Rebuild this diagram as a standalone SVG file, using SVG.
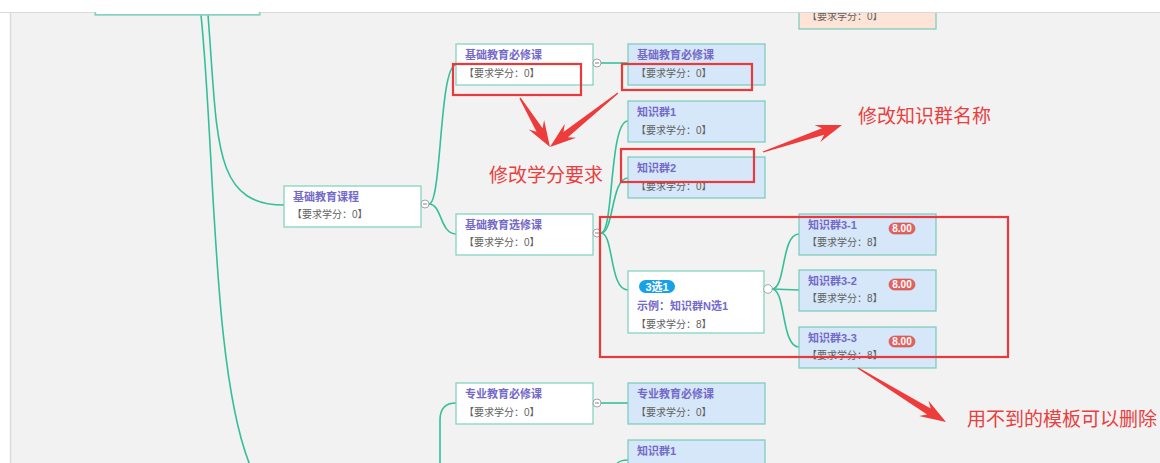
<svg xmlns="http://www.w3.org/2000/svg" width="1160" height="463" viewBox="0 0 1160 463">
<style>
.bg{fill:#f2f2f2}
.nw{fill:#ffffff;stroke:#86d3c3;stroke-width:1.3}
.nb{fill:#d5e7f8;stroke:#7fcdbf;stroke-width:1.3}
.np{fill:#fde4d6;stroke:#7fcdbf;stroke-width:1.3}
.t{font-family:"Liberation Sans","Noto Sans CJK SC",sans-serif;font-size:11px;font-weight:bold;fill:#7469c9}
.d{font-family:"Liberation Sans","Noto Sans CJK SC",sans-serif;font-size:10px;fill:#5f5f5f}
.c{fill:none;stroke:#35bf98;stroke-width:1.6}
.tog{fill:#ffffff;stroke:#9a9a9a;stroke-width:0.9}
.togm{stroke:#777;stroke-width:0.9}
.red{fill:none;stroke:#e8393c;stroke-width:2.2}
.ra{fill:#ee3b3b}
.rt{font-family:"Noto Sans CJK SC",sans-serif;font-size:19px;fill:#e8403f}
.pill{fill:#e2625f;stroke:#d24f4c;stroke-width:0.6}
.pt{font-family:"Liberation Sans",sans-serif;font-size:10px;font-weight:bold;fill:#ffffff}
.bt{font-family:"Liberation Sans","Noto Sans CJK SC",sans-serif;font-size:11px;font-weight:bold;fill:#ffffff}
</style>
<rect x="0" y="0" width="1160" height="463" fill="#ffffff"/>
<rect class="bg" x="10" y="12" width="1150" height="451"/>
<line x1="10.5" y1="12" x2="10.5" y2="463" stroke="#dcdcdc" stroke-width="1.5"/>

<g id="connectors">
<path class="c" d="M201,15 C215,150 212,380 252,470"/>
<path class="c" d="M208,15 C218,140 212,205 284,205"/>
<path class="c" d="M429,204 C442,204 439,65 456,65"/>
<path class="c" d="M429,204 C442,204 440,234 456,234"/>
<path class="c" d="M601,63 L628,63"/>
<path class="c" d="M601,233 C614,233 609,121 628,121"/>
<path class="c" d="M601,233 C614,233 611,178 628,178"/>
<path class="c" d="M601,233 C614,233 609,290 628,290"/>
<path class="c" d="M772,289 C786,289 781,234 799,234"/>
<path class="c" d="M772,289 L799,290"/>
<path class="c" d="M772,289 C786,289 781,347 799,347"/>
<path class="c" d="M601,403 L628,403"/>
<path class="c" d="M440,470 L440,420 C440,408 446,403 456,403"/>
<path class="c" d="M614,470 C615,463 619,460 628,460"/>
</g>

<g id="n-root"><rect class="nw" x="95" y="-30" width="165" height="45"/></g>
<g id="n-top-right"><rect class="np" x="799" y="-12" width="137" height="41"/><text class="d" x="807" y="20">【要求学分：0】</text></g>

<g id="n-jcjykc"><rect class="nw" x="284" y="186" width="137" height="41"/><text class="t" x="293" y="201">基础教育课程</text><text class="d" x="292" y="218">【要求学分：0】</text>
<circle class="tog" cx="425" cy="204" r="4"/><line class="togm" x1="423" y1="204" x2="427" y2="204"/></g>

<g id="n-bx1"><rect class="nw" x="456" y="44" width="137" height="41"/><text class="t" x="465" y="59">基础教育必修课</text><text class="d" x="464" y="77">【要求学分：0】</text>
<circle class="tog" cx="597" cy="63" r="4"/><line class="togm" x1="595" y1="63" x2="599" y2="63"/></g>

<g id="n-xx1"><rect class="nw" x="456" y="214" width="137" height="41"/><text class="t" x="465" y="229">基础教育选修课</text><text class="d" x="464" y="246">【要求学分：0】</text>
<circle class="tog" cx="597" cy="233" r="4"/><line class="togm" x1="595" y1="233" x2="599" y2="233"/></g>

<g id="n-bx2"><rect class="nb" x="628" y="44" width="137" height="41"/><text class="t" x="637" y="59">基础教育必修课</text><text class="d" x="636" y="77">【要求学分：0】</text></g>
<g id="n-zsq1"><rect class="nb" x="628" y="101" width="137" height="41"/><text class="t" x="637" y="116">知识群1</text><text class="d" x="636" y="134">【要求学分：0】</text></g>
<g id="n-zsq2"><rect class="nb" x="628" y="157" width="137" height="41"/><text class="t" x="637" y="172">知识群2</text><text class="d" x="636" y="190">【要求学分：0】</text></g>

<g id="n-3x1"><rect class="nw" x="628" y="271" width="136" height="62"/>
<rect x="639" y="280" width="36" height="13" rx="6.5" fill="#17a1e9"/><text class="bt" x="657" y="290.5" text-anchor="middle">3选1</text>
<text class="t" x="637" y="310">示例：知识群N选1</text><text class="d" x="636" y="328">【要求学分：8】</text>
<circle class="tog" cx="768" cy="289" r="4.3"/></g>

<g id="n-31"><rect class="nb" x="799" y="214" width="137" height="41"/><text class="t" x="808" y="229">知识群3-1</text><text class="d" x="807" y="246">【要求学分：8】</text>
<rect class="pill" x="889" y="223" width="26" height="11" rx="5.5"/><text class="pt" x="902" y="232" text-anchor="middle">8.00</text></g>
<g id="n-32"><rect class="nb" x="799" y="270" width="137" height="41"/><text class="t" x="808" y="285">知识群3-2</text><text class="d" x="807" y="302">【要求学分：8】</text>
<rect class="pill" x="889" y="279" width="26" height="11" rx="5.5"/><text class="pt" x="902" y="288" text-anchor="middle">8.00</text></g>
<g id="n-33"><rect class="nb" x="799" y="327" width="137" height="41"/><text class="t" x="808" y="342">知识群3-3</text><text class="d" x="807" y="359">【要求学分：8】</text>
<rect class="pill" x="889" y="336" width="26" height="11" rx="5.5"/><text class="pt" x="902" y="345" text-anchor="middle">8.00</text></g>

<g id="n-zybx1"><rect class="nw" x="456" y="383" width="137" height="41"/><text class="t" x="465" y="398">专业教育必修课</text><text class="d" x="464" y="416">【要求学分：0】</text>
<circle class="tog" cx="597" cy="403" r="4"/><line class="togm" x1="595" y1="403" x2="599" y2="403"/></g>
<g id="n-zybx2"><rect class="nb" x="628" y="383" width="137" height="41"/><text class="t" x="637" y="398">专业教育必修课</text><text class="d" x="636" y="416">【要求学分：0】</text></g>
<g id="n-zsq1b"><rect class="nb" x="628" y="440" width="137" height="41"/><text class="t" x="637" y="455">知识群1</text></g>

<g id="annotations">
<rect class="red" x="453" y="64" width="128" height="31"/>
<rect class="red" x="622" y="64" width="130" height="26"/>
<rect class="red" x="621" y="149" width="133" height="33"/>
<rect class="red" x="600" y="217" width="408" height="140"/>
<polygon class="ra" points="519.4,98.4 536.6,131.8 528.7,129.5 550,147 544.1,120.1 542.6,128.2 520.6,97.6"/>
<polygon class="ra" points="617.6,92.4 563.5,131.9 564.8,123.8 550,147 576.0,137.8 567.9,137.3 618.4,93.6"/>
<polygon class="ra" points="763.2,152.6 824.2,134.8 820.3,141.9 842,125 814.5,124.9 822.0,128.2 762.8,151.4"/>
<polygon class="ra" points="857.6,368.5 927.1,414.5 919.1,416.1 946,422 928.5,400.7 930.7,408.5 858.4,367.5"/>
<text class="rt" x="489" y="182">修改学分要求</text>
<text class="rt" x="858" y="123">修改知识群名称</text>
<text class="rt" x="967" y="426">用不到的模板可以删除</text>
</g>

<rect x="0" y="0" width="1160" height="12" fill="#ffffff"/>
<line x1="0" y1="12.5" x2="1160" y2="12.5" stroke="#d9d9d9" stroke-width="1"/>
<rect x="95" y="12" width="165" height="3" fill="#ffffff"/>
<path d="M95.6,12 L95.6,14.6 L259.4,14.6 L259.4,12" fill="none" stroke="#86d3c3" stroke-width="1.3"/>
</svg>
